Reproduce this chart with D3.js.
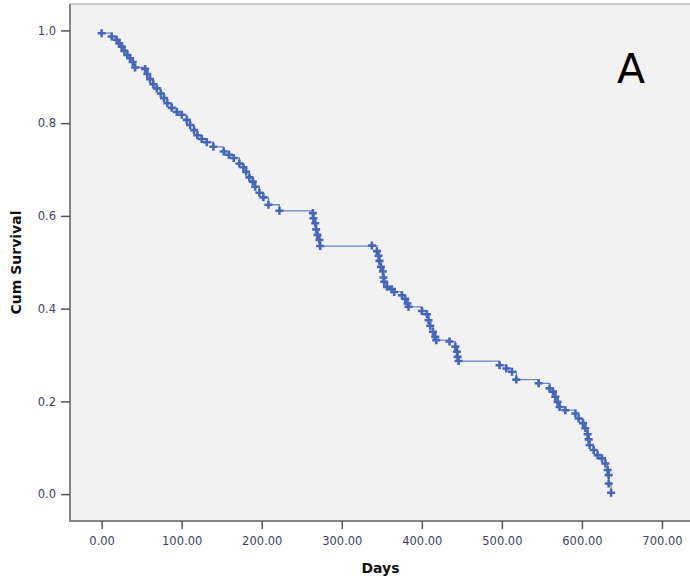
<!DOCTYPE html>
<html>
<head>
<meta charset="utf-8">
<script src="https://cdn.jsdelivr.net/npm/d3@7"></script>
<style>
  body { margin: 0; background: #fff; }
  svg { display: block; }
</style>
</head>
<body>
<script>
// Kaplan-Meier curve, censor marks
var days = [0, 12.6, 18.9, 22.1, 25.1, 28.4, 32.1, 35.5, 38.9, 41.8,
  54.3, 57.1, 60.5, 64.6, 68.9, 73.9, 78.0, 82.1, 87.6, 93.9,
  100.1, 106.4, 110.5, 115.5, 119.6, 125.1, 131.4, 139.6, 152.5, 159,
  165, 172.1, 177.1, 180.5, 184.6, 188.9, 191.8, 197.1, 202.1, 208.4,
  222.1, 263.9, 264.6, 266.8, 268, 269.6, 272.1, 273, 337.6, 343.9,
  345.9, 347.1, 348.9, 351.4, 352.1, 353, 356.4, 362.6, 365.5, 375.1,
  379.3, 382.1, 383.4, 400.1, 406.4, 408.4, 410.5, 413.9, 416.8, 418,
  434.6, 441.8, 443.9, 444.6, 445.9, 497.1, 505.5, 512.6, 518, 545.9,
  559.6, 563.9, 566.8, 569.6, 572.1, 579.3, 591.8, 595.9, 601.4, 604.3,
  607.1, 608.4, 609.6, 614.6, 619.6, 625.1, 629.3, 632.1, 633.4, 633.4, 636.4];
var survival = [0.994, 0.987, 0.980, 0.972, 0.965, 0.956, 0.947, 0.940, 0.932, 0.920,
  0.917, 0.906, 0.895, 0.884, 0.875, 0.864, 0.854, 0.843, 0.833, 0.824,
  0.818, 0.807, 0.796, 0.785, 0.774, 0.766, 0.759, 0.749, 0.739, 0.732,
  0.725, 0.713, 0.705, 0.695, 0.683, 0.674, 0.663, 0.650, 0.640, 0.624,
  0.611, 0.606, 0.595, 0.584, 0.571, 0.559, 0.548, 0.535, 0.536, 0.524,
  0.514, 0.503, 0.490, 0.480, 0.467, 0.458, 0.447, 0.442, 0.436, 0.429,
  0.421, 0.411, 0.404, 0.395, 0.388, 0.375, 0.363, 0.350, 0.339, 0.332,
  0.329, 0.318, 0.307, 0.296, 0.287, 0.278, 0.271, 0.264, 0.247, 0.239,
  0.228, 0.221, 0.210, 0.199, 0.188, 0.181, 0.174, 0.163, 0.153, 0.142,
  0.129, 0.118, 0.106, 0.095, 0.084, 0.077, 0.066, 0.052, 0.041, 0.023, 0.003];
var xTicks = [0, 100, 200, 300, 400, 500, 600, 700];
var yTicks = [0, 0.2, 0.4, 0.6, 0.8, 1.0];

var width = 690, height = 585;
var plotLeft = 70, plotTop = 4, plotRight = 694, plotBottom = 521;

var points = days.map(function(d, i) { return [d, survival[i]]; });

var x = d3.scaleLinear().domain([-39.5, 740]).range([plotLeft, plotRight]);
var y = d3.scaleLinear().domain([-0.058, 1.057]).range([plotBottom, plotTop]);

var svg = d3.select("body").append("svg")
    .attr("width", width)
    .attr("height", height);

// plot frame
svg.append("rect")
    .attr("x", plotLeft).attr("y", plotTop)
    .attr("width", plotRight - plotLeft).attr("height", plotBottom - plotTop)
    .attr("fill", "#f2f2f2")
    .attr("stroke", "#9a9a9a")
    .attr("stroke-width", 1);

svg.append("path")
    .attr("d", "M" + plotLeft + "," + plotTop + "V" + plotBottom + "H" + plotRight)
    .attr("fill", "none")
    .attr("stroke", "#858585")
    .attr("stroke-width", 2);

var yAxis = svg.append("g")
    .attr("transform", "translate(" + plotLeft + ",0)")
    .call(d3.axisLeft(y).tickValues(yTicks).tickFormat(d3.format(".1f"))
      .tickSize(9).tickPadding(5));

var xAxis = svg.append("g")
    .attr("transform", "translate(0," + plotBottom + ")")
    .call(d3.axisBottom(x).tickValues(xTicks).tickFormat(d3.format(".2f"))
      .tickSize(8).tickPadding(8));

[yAxis, xAxis].forEach(function(g) {
  g.select(".domain").remove();
  g.selectAll(".tick line").attr("stroke", "#555").attr("stroke-width", 1.5);
  g.selectAll(".tick text")
      .attr("fill", "#3c4262")
      .attr("font-family", "DejaVu Sans")
      .attr("font-size", "11.5px");
});

// step line
var line = d3.line()
    .x(function(d) { return x(d[0]); })
    .y(function(d) { return y(d[1]); })
    .curve(d3.curveStepAfter);

svg.append("path")
    .datum(points)
    .attr("d", line)
    .attr("fill", "none")
    .attr("stroke", "#6883c9")
    .attr("stroke-width", 1.3);

// censor marks
svg.selectAll("path.mark")
    .data(points)
    .enter()
    .append("path")
    .attr("class", "mark")
    .attr("d", function(d) {
      var cx = x(d[0]), cy = y(d[1]), r = 4;
      return "M" + (cx - r) + "," + cy + "H" + (cx + r) +
             "M" + cx + "," + (cy - r) + "V" + (cy + r);
    })
    .attr("stroke", "#4566b9")
    .attr("stroke-width", 2.6)
    .attr("fill", "none");

// titles
svg.append("text")
    .attr("transform", "translate(21,262.5) rotate(-90)")
    .attr("text-anchor", "middle")
    .attr("font-family", "DejaVu Sans")
    .attr("font-weight", "bold")
    .attr("font-size", "14px")
    .attr("fill", "#111")
    .text("Cum Survival");

svg.append("text")
    .attr("x", 380.5)
    .attr("y", 572.5)
    .attr("text-anchor", "middle")
    .attr("font-family", "DejaVu Sans")
    .attr("font-weight", "bold")
    .attr("font-size", "14px")
    .attr("fill", "#111")
    .text("Days");

svg.append("text")
    .attr("x", 631)
    .attr("y", 82.7)
    .attr("text-anchor", "middle")
    .attr("font-family", "DejaVu Sans")
    .attr("font-size", "41px")
    .attr("fill", "#000")
    .text("A");
</script>
</body>
</html>
